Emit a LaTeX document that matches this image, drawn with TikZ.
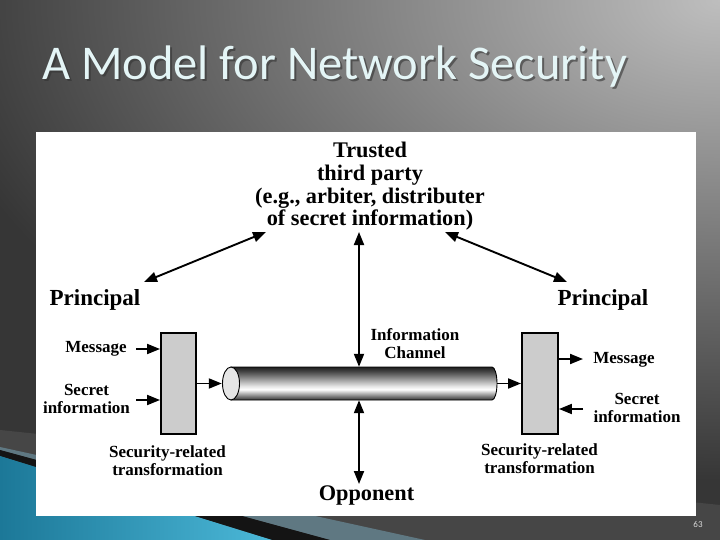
\documentclass[tikz,border=0pt]{standalone}
\usepackage{fontspec}
\setmainfont{Liberation Serif}
\newfontfamily\titlefont{Carlito}
\usetikzlibrary{arrows.meta}
\definecolor{titlec}{RGB}{228,245,246}
\definecolor{boxgray}{RGB}{204,204,204}
\definecolor{bgin}{RGB}{190,190,190}
\definecolor{bgout}{RGB}{54,54,54}
\definecolor{bandgray}{RGB}{70,70,70}
\definecolor{bandblue}{RGB}{95,120,130}
\definecolor{blueL}{RGB}{28,120,152}
\definecolor{blueR}{RGB}{75,184,216}
\pgfdeclareradialshading{bgshade}{\pgfpoint{0bp}{0bp}}{color(0bp)=(bgin); color(25bp)=(bgout); color(50bp)=(bgout)}
\pgfdeclareverticalshading{cylshade}{100bp}{color(0bp)=(black!80); color(25bp)=(black!80); color(33bp)=(black!40); color(41bp)=(white); color(46bp)=(black!10); color(56bp)=(black!38); color(68bp)=(black!72); color(75bp)=(black!88); color(100bp)=(black!88)}
\begin{document}
\begin{tikzpicture}[x=1pt,y=-1pt,
  lbl/.style={font=\bfseries\fontsize{17}{17.5}\selectfont, align=center, inner sep=0pt},
  big/.style={font=\bfseries\fontsize{22.3}{22.6}\selectfont, align=center, inner sep=0pt},
  arr/.style={line width=1.9pt, -{Triangle[length=13pt,width=10pt]}},
  darr/.style={line width=1.9pt, {Triangle[length=13pt,width=10pt]}-{Triangle[length=13pt,width=10pt]}},
  tbox/.style={draw, line width=1.9pt, fill=boxgray, minimum height=101pt, inner sep=0pt}]
\useasboundingbox (0,0) rectangle (720,540);
% background
\begin{scope}
\clip (0,0) rectangle (720,540);
\fill[bgout] (0,0) rectangle (720,540);
\shade[shading=bgshade] (720,0) ellipse [x radius=800, y radius=480];
\fill[bandgray] (0,430) -- (720,505) -- (720,540) -- (0,540) -- cycle;
\fill[bandblue] (0,447) -- (425,540) -- (330,540) -- (0,450) -- cycle;
\fill[black!92] (0,450) -- (330,540) -- (272,540) -- (0,456) -- cycle;
\shade[left color=blueL, right color=blueR] (0,456) -- (272,540) -- (0,540) -- cycle;
\end{scope}
% title
\node[anchor=base west, inner sep=0, font=\titlefont\fontsize{48.5}{48.5}\selectfont, text=black!80, opacity=0.6] (titleshadow) at (44,82) {A Model for Network Security};
\node[anchor=base west, inner sep=0, font=\titlefont\fontsize{48.5}{48.5}\selectfont, text=titlec] (title) at (42,80) {A Model for Network Security};
% panel
\fill[white] (36,132) rectangle (696,516);
% texts
\node[big] (trusted) at (370,186.5) {Trusted\\third party\\(e.g., arbiter, distributer\\of secret information)};
\node[big, font=\bfseries\fontsize{23}{23}\selectfont] (pleft) at (95,300) {Principal};
\node[big, font=\bfseries\fontsize{23}{23}\selectfont] (pright) at (603,300) {Principal};
\node[big] (opp) at (366.5,495) {Opponent};
\node[lbl] (msgL) at (96,349) {Message};
\node[lbl] (secL) at (86.5,399) {Secret\\information};
\node[lbl] (srtL) at (167.5,460.5) {Security-related\\transformation};
\node[lbl] (chan) at (415,343.5) {Information\\Channel};
\node[lbl] (msgR) at (624,360) {Message};
\node[lbl] (secR) at (637,408) {Secret\\information};
\node[lbl] (srtR) at (539.5,458.5) {Security-related\\transformation};
% boxes
\node[tbox, minimum width=35pt] (lbox) at (178.5,383.5) {};
\node[tbox, minimum width=36pt] (rbox) at (540,383.5) {};
% cylinder
\node[minimum width=275pt, minimum height=33pt, inner sep=0pt] (cyl) at (359.5,383.5) {};
\shade[shading=cylshade, draw, line width=0.9pt] (231,367) -- (492,367) arc[start angle=-90, end angle=90, x radius=5, y radius=16.5] -- (231,400) -- cycle;
\draw[line width=0.9pt, fill=black!10] (231,383.5) ellipse [x radius=8.5, y radius=16.5];
% connectors
\coordinate (m1) at (136,349);
\coordinate (s1) at (136,400);
\coordinate (m2) at (583,359);
\coordinate (s2) at (583,409);
\coordinate (tv) at (359,232);
\coordinate (tl) at (266,232);
\coordinate (pl) at (144,282);
\coordinate (tr) at (445,232);
\coordinate (pr) at (567,282);
\coordinate (ov) at (359,484);
\draw[arr] (m1) -- (m1 -| lbox.west);
\draw[arr] (s1) -- (s1 -| lbox.west);
\draw[arr] (lbox.east) -- (cyl.west);
\draw[arr] (cyl.east) -- (rbox.west);
\draw[arr] (m2 -| rbox.east) -- (m2);
\draw[arr] (s2) -- (s2 -| rbox.east);
\draw[darr] (tv) -- (tv |- cyl.north);
\draw[darr] (tv |- cyl.south) -- (ov);
\draw[darr] (pl) -- (tl);
\draw[darr] (tr) -- (pr);
% page number
\node[font=\titlefont\fontsize{9}{9}\selectfont, text=black!15, inner sep=0] (pg) at (698,524) {63};
\end{tikzpicture}
\end{document}
